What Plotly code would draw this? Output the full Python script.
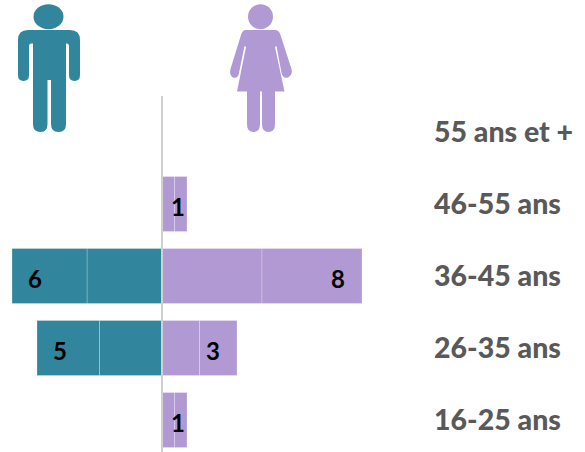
import plotly.graph_objects as go

W, H = 585, 452
categories = ["16-25 ans", "26-35 ans", "36-45 ans", "46-55 ans", "55 ans et +"]
men = [0, 5, 6, 0, 0]
women = [1, 3, 8, 1, 0]

TEAL = "#31859C"
PURPLE = "#B199D4"
FONT = "Lato"
EDGE = "rgba(255,255,255,0.25)"

def halves(vals, sign):
    return [sign * v / 2 if v else None for v in vals]

fig = go.Figure()
for vals, sign, color in [(men, -1, TEAL), (women, 1, PURPLE)]:
    for _ in range(2):
        fig.add_trace(go.Bar(y=categories, x=halves(vals, sign), orientation="h",
                             marker=dict(color=color, line=dict(color=EDGE, width=1)),
                             showlegend=False, hoverinfo="skip"))

PX_PER_UNIT = 25
CENTER = 162
LABEL_X = 434

annotations = []
for vals, sign in [(men, -1), (women, 1)]:
    for c, v in zip(categories, vals):
        if v:
            shift = -sign * (9 if v == 1 else 24)
            annotations.append(dict(x=sign * v, y=c, xref="x", yref="y", text=f"<b>{v}</b>",
                                    showarrow=False, xshift=shift - (1 if sign < 0 else 0), yshift=-2,
                                    font=dict(family=FONT, size=24, color="#000000")))

def px(x):
    return x / W

def py(y):
    return 1 - y / H

def path(cmds):
    out = []
    for c in cmds:
        if isinstance(c, str):
            out.append(c)
        else:
            out.append(f"{px(c[0]):.5f},{py(c[1]):.5f}")
    return " ".join(out)

man_body = path([
    "M", (18, 40), "Q", (18, 30), (28, 30), "L", (70, 30), "Q", (80, 30), (80, 40),
    "L", (80, 75), "Q", (80, 81), (74.5, 81), "Q", (69, 81), (69, 75), "L", (69, 46),
    "Q", (69, 43.5), (67, 43.5), "L", (66, 43.5), "L", (66, 124), "Q", (66, 132), (58.5, 132),
    "Q", (51, 132), (51, 124), "L", (51, 80), "L", (47.5, 80), "L", (47.5, 124),
    "Q", (47.5, 132), (40.5, 132), "Q", (33, 132), (33, 124), "L", (33, 43.5),
    "L", (31.5, 43.5), "Q", (29, 43.5), (29, 46), "L", (29, 75), "Q", (29, 81), (23.5, 81),
    "Q", (18, 81), (18, 75), "Z"])
woman_body = path([
    "M", (246, 30), "L", (275, 30), "Q", (279, 30), (280.5, 35), "L", (291.5, 69),
    "Q", (293, 75), (288, 77.5), "Q", (283, 79), (281.5, 73), "L", (276.5, 46), "L", (275, 47),
    "L", (284.5, 91.5), "L", (275, 91.5), "L", (275, 124), "Q", (275, 132), (268.5, 132),
    "Q", (262, 132), (262, 124), "L", (262, 91.5), "L", (260, 91.5), "L", (260, 124),
    "Q", (260, 132), (253.5, 132), "Q", (247, 132), (247, 124), "L", (247, 91.5),
    "L", (237, 91.5), "L", (246, 47), "L", (244.5, 46), "L", (239, 73),
    "Q", (238, 79), (233, 77.5), "Q", (229, 75), (230.5, 69), "L", (241, 35),
    "Q", (242.5, 30), (246, 30), "Z"])

def ellipse(cx, cy, rx, ry, color):
    return dict(type="circle", xref="paper", yref="paper", x0=px(cx - rx), x1=px(cx + rx),
                y0=py(cy + ry), y1=py(cy - ry), fillcolor=color, line=dict(width=0), layer="above")

shapes = [
    dict(type="path", xref="paper", yref="paper", path=man_body, fillcolor=TEAL, line=dict(width=0), layer="above"),
    dict(type="path", xref="paper", yref="paper", path=woman_body, fillcolor=PURPLE, line=dict(width=0), layer="above"),
    ellipse(48.5, 16.7, 15, 12.5, TEAL),
    ellipse(260.5, 16.7, 12.5, 12.5, PURPLE),
    dict(type="line", xref="x", yref="y domain", x0=0, x1=0, y0=0, y1=1,
         line=dict(color="#D0D0D0", width=2), layer="above"),
]

fig.update_layout(
    width=W, height=H, barmode="relative", bargap=0.236,
    margin=dict(l=0, r=0, t=0, b=0), autosize=False,
    paper_bgcolor="white", plot_bgcolor="white",
    xaxis=dict(domain=[0, (LABEL_X - 6) / W],
               range=[-CENTER / PX_PER_UNIT, (LABEL_X - 6 - CENTER) / PX_PER_UNIT],
               visible=False, fixedrange=True),
    yaxis=dict(domain=[0, 356 / H], type="category", categoryorder="array", categoryarray=categories,
               range=[-0.444, 4.5], side="right", showgrid=False, showline=False, ticks="",
               zeroline=False, automargin=False, ticklabelstandoff=5,
               tickfont=dict(family=FONT, size=28.5, color="#595959", weight=900), fixedrange=True),
    annotations=annotations, shapes=shapes,
)
fig.write_html("out.html", config=dict(displayModeBar=False),
               post_script="document.body.style.margin='0';document.documentElement.style.overflow='hidden';")
